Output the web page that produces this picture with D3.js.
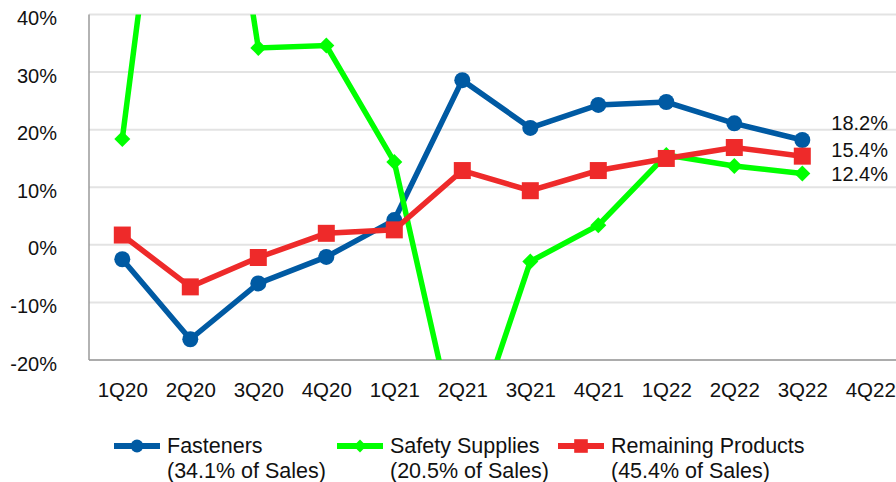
<!DOCTYPE html>
<html>
<head>
<meta charset="utf-8">
<script src="https://cdn.jsdelivr.net/npm/d3@7"></script>
<style>
  html, body { margin: 0; padding: 0; background: #fff; }
  svg { display: block; }
  text { font-family: "Liberation Sans", Arial, sans-serif; fill: #111; }
</style>
</head>
<body>
<svg id="chart" width="896" height="482"></svg>
<script>
// ---- data ----
const categories = ["1Q20","2Q20","3Q20","4Q20","1Q21","2Q21","3Q21","4Q21","1Q22","2Q22","3Q22","4Q22"];
const fasteners = [-2.5, -16.4, -6.7, -2.1, 4.3, 28.6, 20.3, 24.3, 24.8, 21.1, 18.2];
const safety    = [18.4, 110, 34.2, 34.6, 14.4, -38, -2.9, 3.4, 15.6, 13.7, 12.4];
const remaining = [1.7, -7.3, -2.2, 2.0, 2.6, 12.9, 9.4, 12.9, 15.0, 16.9, 15.4];
const yTicks = [-20, -10, 0, 10, 20, 30, 40];
const seriesNames = ["Fasteners", "Safety Supplies", "Remaining Products"];
const seriesShares = ["(34.1% of Sales)", "(20.5% of Sales)", "(45.4% of Sales)"];
const endLabels = ["18.2%", "15.4%", "12.4%"];

// ---- layout / style ----
const svg = d3.select("#chart");
const plot = { left: 89, right: 896, top: 14.5, bottom: 360 };
const colors = ["#005aa3", "#00ff00", "#ee2a2a"];
const endLabelOffsets = [-10, 0.5, 7.5];

const x = d3.scalePoint().domain(categories).range([122.3, 870.3]);
const y = d3.scaleLinear().domain([-20, 40]).range([plot.bottom, plot.top]);

// gridlines
svg.append("g")
  .selectAll("line").data(yTicks).join("line")
  .attr("x1", plot.left).attr("x2", plot.right)
  .attr("y1", d => y(d)).attr("y2", d => y(d))
  .attr("stroke", "#e3e3e3").attr("stroke-width", 2);

// y axis labels
const yAxis = d3.axisLeft(y).tickValues(yTicks).tickFormat(d => d + "%").tickSize(0).tickPadding(0);
const yg = svg.append("g").attr("transform", `translate(57,0)`).call(yAxis);
yg.select(".domain").remove();
yg.selectAll("text").attr("font-size", 20).attr("dy", "0.5em")
  .style("font-family", '"Liberation Sans", Arial, sans-serif').attr("fill", "#111");

// x axis labels
const xAxis = d3.axisBottom(x).tickSize(0).tickPadding(0);
const xg = svg.append("g").attr("transform", `translate(0,382)`).call(xAxis);
xg.select(".domain").remove();
xg.selectAll("text").attr("font-size", 20.5).attr("dy", "0.73em")
  .style("font-family", '"Liberation Sans", Arial, sans-serif').attr("fill", "#111");

// axis lines
svg.append("line").attr("x1", plot.left).attr("x2", plot.left)
  .attr("y1", plot.top).attr("y2", plot.bottom)
  .attr("stroke", "#9a9a9a").attr("stroke-width", 1.5);
svg.append("line").attr("x1", plot.left).attr("x2", plot.right)
  .attr("y1", plot.bottom).attr("y2", plot.bottom)
  .attr("stroke", "#9a9a9a").attr("stroke-width", 1.5);

// clip
svg.append("defs").append("clipPath").attr("id", "plotclip")
  .append("rect").attr("x", plot.left).attr("y", plot.top)
  .attr("width", plot.right - plot.left).attr("height", plot.bottom - plot.top);

const gPlot = svg.append("g").attr("clip-path", "url(#plotclip)");
const line = d3.line().x((d, i) => x(categories[i])).y(d => y(d));

const allSeries = [fasteners, safety, remaining];
const markerTypes = ["circle", "diamond", "square"];

function drawMarker(g, type, cx, cy, color, scale) {
  const s = scale || 1;
  if (type === "circle") {
    g.append("circle").attr("cx", cx).attr("cy", cy).attr("r", 8 * s).attr("fill", color);
  } else if (type === "square") {
    const h = 8.5 * s;
    g.append("rect").attr("x", cx - h).attr("y", cy - h).attr("width", 2 * h).attr("height", 2 * h).attr("fill", color);
  } else {
    const h = 8 * s;
    g.append("path").attr("d", `M${cx},${cy - h}L${cx + h},${cy}L${cx},${cy + h}L${cx - h},${cy}Z`).attr("fill", color);
  }
}

allSeries.forEach((data, si) => {
  gPlot.append("path").datum(data)
    .attr("d", line).attr("fill", "none")
    .attr("stroke", colors[si]).attr("stroke-width", 5.5)
    .attr("stroke-linejoin", "miter");
  data.forEach((v, i) => drawMarker(gPlot, markerTypes[si], x(categories[i]), y(v), colors[si]));
});

// end labels
const lastIdx = fasteners.length - 1;
[fasteners, remaining, safety].forEach((data, k) => {
  svg.append("text")
    .attr("x", x(categories[lastIdx]) + 29)
    .attr("y", y(data[lastIdx]) + endLabelOffsets[k])
    .attr("font-size", 20)
    .text(endLabels[k]);
});

// legend
const legendX = [114, 337, 558];
seriesNames.forEach((name, i) => {
  const g = svg.append("g");
  const lx = legendX[i];
  g.append("line").attr("x1", lx).attr("x2", lx + 46).attr("y1", 446).attr("y2", 446)
    .attr("stroke", colors[i]).attr("stroke-width", 6);
  drawMarker(g, markerTypes[i], lx + 23, 446, colors[i], 0.8);
  g.append("text").attr("x", lx + 53).attr("y", 453).attr("font-size", 21.5).text(name);
  g.append("text").attr("x", lx + 53).attr("y", 478).attr("font-size", 21.5).text(seriesShares[i]);
});
</script>
</body>
</html>
